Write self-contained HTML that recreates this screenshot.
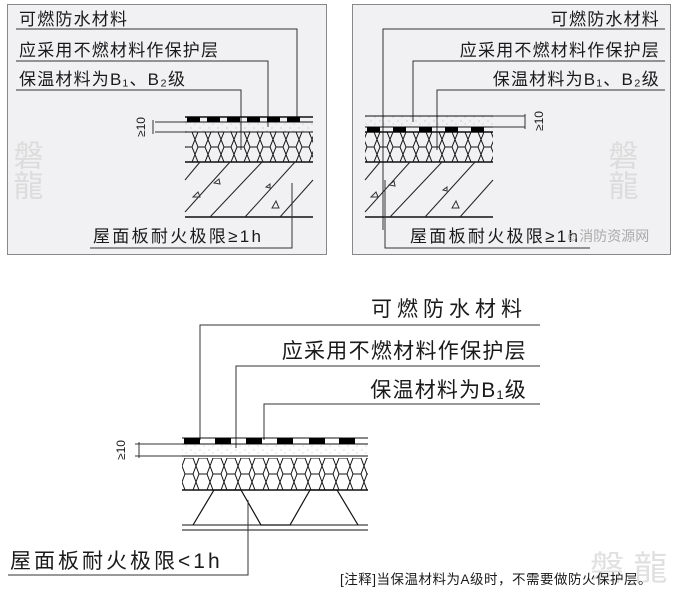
<!DOCTYPE html>
<html><head><meta charset="utf-8"><style>
html,body{margin:0;padding:0;background:#fff;}
svg{display:block;}
text{font-family:"Liberation Sans","Noto Sans CJK SC",sans-serif;fill:#1a1a1a;}
</style></head><body>
<svg width="677" height="601" viewBox="0 0 677 601" xmlns="http://www.w3.org/2000/svg">
<defs>
<pattern id="hex" width="13" height="15" patternUnits="userSpaceOnUse" x="0" y="132">
<path d="M3,0 L10,0 L13,7.5 L10,15 L3,15 L0,7.5 Z" fill="none" stroke="#111" stroke-width="1"/>
</pattern>
<pattern id="hexb" width="14" height="16" patternUnits="userSpaceOnUse" x="182" y="458">
<path d="M3,0 L11,0 L14,8 L11,16 L3,16 L0,8 Z" fill="none" stroke="#111" stroke-width="1"/>
</pattern>
<pattern id="sand" width="9" height="7" patternUnits="userSpaceOnUse">
<circle cx="2" cy="2" r="0.5" fill="#999"/><circle cx="6" cy="5" r="0.5" fill="#aaa"/>
</pattern>
</defs>
<rect width="677" height="601" fill="#fff"/>
<!-- Panel 1 -->
<rect x="7.5" y="4.5" width="319" height="250" fill="#f1f1f3" stroke="#888"/>
<text x="25" y="140" font-size="30" style="fill:#dcdcdc;writing-mode:tb">磐龍</text>
<text x="19" y="25" font-size="17" letter-spacing="1.2">可燃防水材料</text>
<text x="19" y="56" font-size="17" letter-spacing="1.2">应采用不燃材料作保护层</text>
<text x="19" y="85" font-size="17" letter-spacing="1.2">保温材料为B₁、B₂级</text>
<polyline points="16,29 297,29 297,117" fill="none" stroke="#333"/>
<polyline points="16,61 268,61 268,127" fill="none" stroke="#333"/>
<polyline points="16,90 241,90 241,150" fill="none" stroke="#333"/>
<g stroke="#111">
<line x1="185" y1="117" x2="313" y2="117" stroke-width="1.5"/>
<line x1="185" y1="122" x2="313" y2="122"/>
<line x1="185" y1="132" x2="313" y2="132"/>
<line x1="185" y1="162" x2="313" y2="162" stroke-width="1.5"/>
<line x1="185" y1="217" x2="313" y2="217" stroke-width="1.5"/>
</g>
<g fill="#000"><rect x="187" y="117" width="13" height="5"/><rect x="207" y="117" width="13" height="5"/><rect x="227" y="117" width="13" height="5"/><rect x="247" y="117" width="13" height="5"/><rect x="267" y="117" width="13" height="5"/><rect x="287" y="117" width="13" height="5"/></g>
<rect x="185" y="122" width="128" height="10" fill="url(#sand)"/>
<rect x="185" y="132" width="128" height="30" fill="url(#hex)"/>
<g stroke="#222"><line x1="185" y1="180" x2="200" y2="162"/><line x1="185" y1="212" x2="230" y2="162"/><line x1="210" y1="217" x2="262" y2="162"/><line x1="245" y1="217" x2="295" y2="162"/><line x1="280" y1="217" x2="313" y2="180"/></g>
<g stroke="#333" fill="none"><path d="M214,183 l5,-4 l1,5z"/><path d="M193,197 l5,-5 l2,5z"/><path d="M266,187 l4,-3 l0,4z"/><path d="M272,208 l4,-7 l3,7z"/></g>
<g stroke="#333"><line x1="155" y1="122" x2="185" y2="122"/><line x1="155" y1="132" x2="185" y2="132"/><line x1="153" y1="120" x2="153" y2="134"/></g>
<text transform="translate(145,137) rotate(-90)" font-size="12">≥10</text>
<polyline points="90,248 292,248 292,183" fill="none" stroke="#333"/>
<text x="93" y="242" font-size="17" letter-spacing="2.3">屋面板耐火极限≥1h</text>
<!-- Panel 2 -->
<rect x="352.5" y="4.5" width="318" height="250" fill="#f1f1f3" stroke="#888"/>
<text x="620" y="140" font-size="30" style="fill:#dcdcdc;writing-mode:tb">磐龍</text>
<text x="660" y="25" font-size="17" letter-spacing="1.2" text-anchor="end">可燃防水材料</text>
<text x="660" y="56" font-size="17" letter-spacing="1.2" text-anchor="end">应采用不燃材料作保护层</text>
<text x="660" y="85" font-size="17" letter-spacing="1.2" text-anchor="end">保温材料为B₁、B₂级</text>
<polyline points="665,29 383,29 383,230" fill="none" stroke="#333"/>
<polyline points="665,61 413,61 413,122" fill="none" stroke="#333"/>
<polyline points="665,90 437,90 437,150" fill="none" stroke="#333"/>
<g stroke="#111">
<line x1="365" y1="116" x2="493" y2="116"/>
<line x1="365" y1="127" x2="493" y2="127"/>
<line x1="365" y1="132" x2="493" y2="132" stroke-width="1.5"/>
<line x1="365" y1="162" x2="493" y2="162" stroke-width="1.5"/>
<line x1="365" y1="217" x2="493" y2="217" stroke-width="1.5"/>
</g>
<g fill="#000"><rect x="367" y="127" width="13" height="5"/><rect x="393" y="127" width="13" height="5"/><rect x="419" y="127" width="13" height="5"/><rect x="445" y="127" width="13" height="5"/><rect x="471" y="127" width="13" height="5"/></g>
<rect x="365" y="116" width="128" height="11" fill="url(#sand)"/>
<rect x="365" y="132" width="128" height="30" fill="url(#hex)"/>
<g stroke="#222"><line x1="365" y1="180" x2="380" y2="162"/><line x1="365" y1="212" x2="410" y2="162"/><line x1="390" y1="217" x2="442" y2="162"/><line x1="425" y1="217" x2="475" y2="162"/><line x1="460" y1="217" x2="493" y2="180"/></g>
<g stroke="#333" fill="none"><path d="M389,185 l5,-4 l1,5z"/><path d="M371,197 l5,-5 l2,5z"/><path d="M443,190 l4,-3 l0,4z"/><path d="M452,208 l4,-7 l3,7z"/></g>
<g stroke="#333"><line x1="493" y1="116" x2="525" y2="116"/><line x1="493" y1="127" x2="525" y2="127"/><line x1="525" y1="114" x2="525" y2="129"/></g>
<text transform="translate(543,131) rotate(-90)" font-size="12">≥10</text>
<polyline points="385,180 385,248 590,248" fill="none" stroke="#333"/>
<text x="410" y="242" font-size="17" letter-spacing="2.3">屋面板耐火极限≥1h</text>
<text x="565" y="241" font-size="14" style="fill:#aaa">☺消防资源网</text>
<!-- Bottom -->
<text x="590" y="580" font-size="34" style="fill:#e0e0e0">磐 龍</text>
<text x="527" y="316" font-size="21" letter-spacing="5" text-anchor="end">可燃防水材料</text>
<text x="527" y="358" font-size="21" letter-spacing="1.3" text-anchor="end">应采用不燃材料作保护层</text>
<text x="527" y="397" font-size="21" letter-spacing="1.2" text-anchor="end">保温材料为B₁级</text>
<polyline points="540,325 200,325 200,440" fill="none" stroke="#333"/>
<polyline points="540,366 236,366 236,448" fill="none" stroke="#333"/>
<polyline points="540,404 264,404 264,440" fill="none" stroke="#333"/>
<g stroke="#111">
<line x1="182" y1="438" x2="368" y2="438"/>
<line x1="182" y1="444" x2="368" y2="444"/>
<line x1="182" y1="456" x2="368" y2="456"/>
<line x1="182" y1="490" x2="368" y2="490" stroke-width="1.5"/>
<line x1="182" y1="525" x2="368" y2="525"/>
<line x1="182" y1="530" x2="368" y2="530"/>
</g>
<g fill="#000"><rect x="184" y="438" width="16" height="6"/><rect x="215" y="438" width="16" height="6"/><rect x="246" y="438" width="16" height="6"/><rect x="277" y="438" width="16" height="6"/><rect x="309" y="438" width="16" height="6"/><rect x="339" y="438" width="16" height="6"/></g>
<rect x="182" y="444" width="186" height="12" fill="url(#sand)"/>
<rect x="182" y="458" width="186" height="32" fill="url(#hexb)"/>
<polyline points="193,525 214,490 241,490 261,525 290,525 310,490 337,490 358,525" fill="none" stroke="#111" stroke-width="1.2"/>
<g stroke="#333"><line x1="135" y1="444" x2="182" y2="444"/><line x1="135" y1="456" x2="182" y2="456"/><line x1="139" y1="442" x2="139" y2="458"/></g>
<text transform="translate(125,460) rotate(-90)" font-size="12">≥10</text>
<polyline points="8,575 248,575 248,500" fill="none" stroke="#333"/>
<text x="10" y="568" font-size="21" letter-spacing="3">屋面板耐火极限&lt;1h</text>
<text x="340" y="584" font-size="13.5" letter-spacing="0.5">[注释]当保温材料为A级时，不需要做防火保护层。</text>
</svg>
</body></html>
